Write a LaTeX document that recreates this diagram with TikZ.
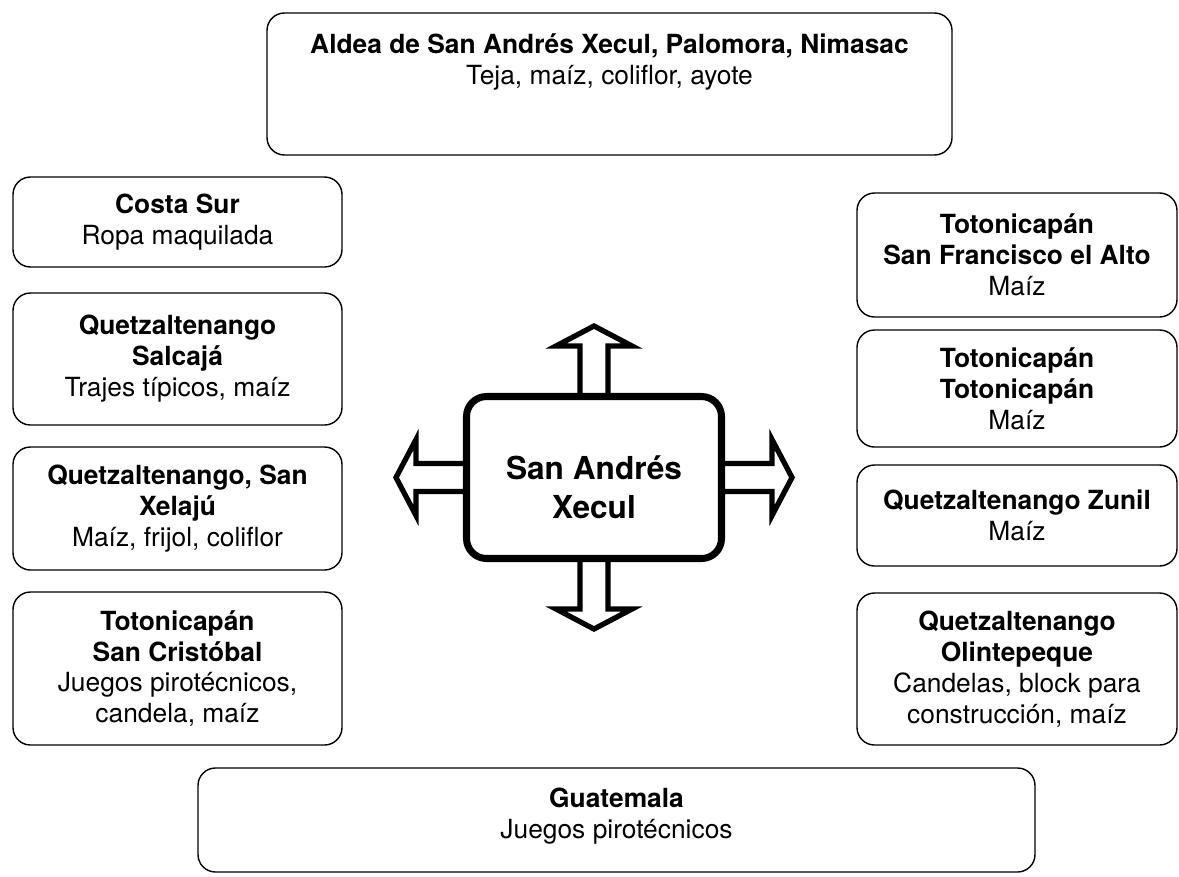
\documentclass[tikz,border=0pt]{standalone}
\usepackage{fontspec}
\setmainfont{TeX Gyre Heros}
\usetikzlibrary{positioning}

\tikzset{
  place/.style 2 args={draw, line width=0.8pt, rounded corners=0.35cm, align=center,
    minimum width=#1*0.02cm, minimum height=#2*0.02cm, inner sep=0pt},
  txt/.style={align=center, font=\fontsize{15}{17.6}\selectfont},
  blockarrow/.pic={
    \draw[line width=3pt, line join=miter] (0,-14) -- (47,-14) -- (47,-38) -- (67,0)
      -- (47,38) -- (47,14) -- (0,14);
  }
}

\begin{document}
\begin{tikzpicture}[x=0.02cm, y=-0.02cm, every node/.append style={txt}]
\useasboundingbox (0,0) rectangle (1179,876);

% center
\node[draw, line width=4pt, rounded corners=0.4cm, minimum width=255*0.02cm,
      minimum height=162*0.02cm] (xecul) at (594,477.5) {};
\node[font=\fontsize{18}{22}\selectfont\bfseries] (xecultxt) at (594,487) {San Andrés\\Xecul};
\foreach \a/\r in {north/90, south/-90, east/0, west/180}
  \pic[rotate=\r] at (xecul.\a) {blockarrow};

% top and bottom
\node[place={685}{142}] (aldea) at (609.5,84) {};
\node (aldeatxt) at (609.5,62) {\textbf{Aldea de San Andrés Xecul, Palomora, Nimasac}\\Teja, maíz, coliflor, ayote};
\node[place={837}{104}] (guate) at (616.5,820) {};
\node (guatetxt) at (616.5,816) {\textbf{Guatemala}\\Juegos pirotécnicos};

% left
\node[place={329}{90}]  (costa)     at (177.5,222)   {\textbf{Costa Sur}\\Ropa maquilada};
\node[place={329}{132}] (salcaja)   at (177.5,359)   {\textbf{Quetzaltenango}\\\textbf{Salcajá}\\Trajes típicos, maíz};
\node[place={329}{123}] (xelaju)    at (177.5,508.5) {\textbf{Quetzaltenango, San}\\\textbf{Xelajú}\\Maíz, frijol, coliflor};
\node[place={329}{153}] (cristobal) at (177.5,668.5) {\textbf{Totonicapán}\\\textbf{San Cristóbal}\\Juegos pirotécnicos,\\candela, maíz};

% right
\node[place={320}{124}] (francisco)   at (1017,255)   {\textbf{Totonicapán}\\\textbf{San Francisco el Alto}\\Maíz};
\node[place={320}{117}] (totonicapan) at (1017,388.5) {\textbf{Totonicapán}\\\textbf{Totonicapán}\\Maíz};
\node[place={320}{101}] (zunil)       at (1017,515.5) {\textbf{Quetzaltenango Zunil}\\Maíz};
\node[place={320}{152}] (olintepeque) at (1017,669)   {\textbf{Quetzaltenango}\\\textbf{Olintepeque}\\Candelas, block para\\construcción, maíz};
\end{tikzpicture}
\end{document}
